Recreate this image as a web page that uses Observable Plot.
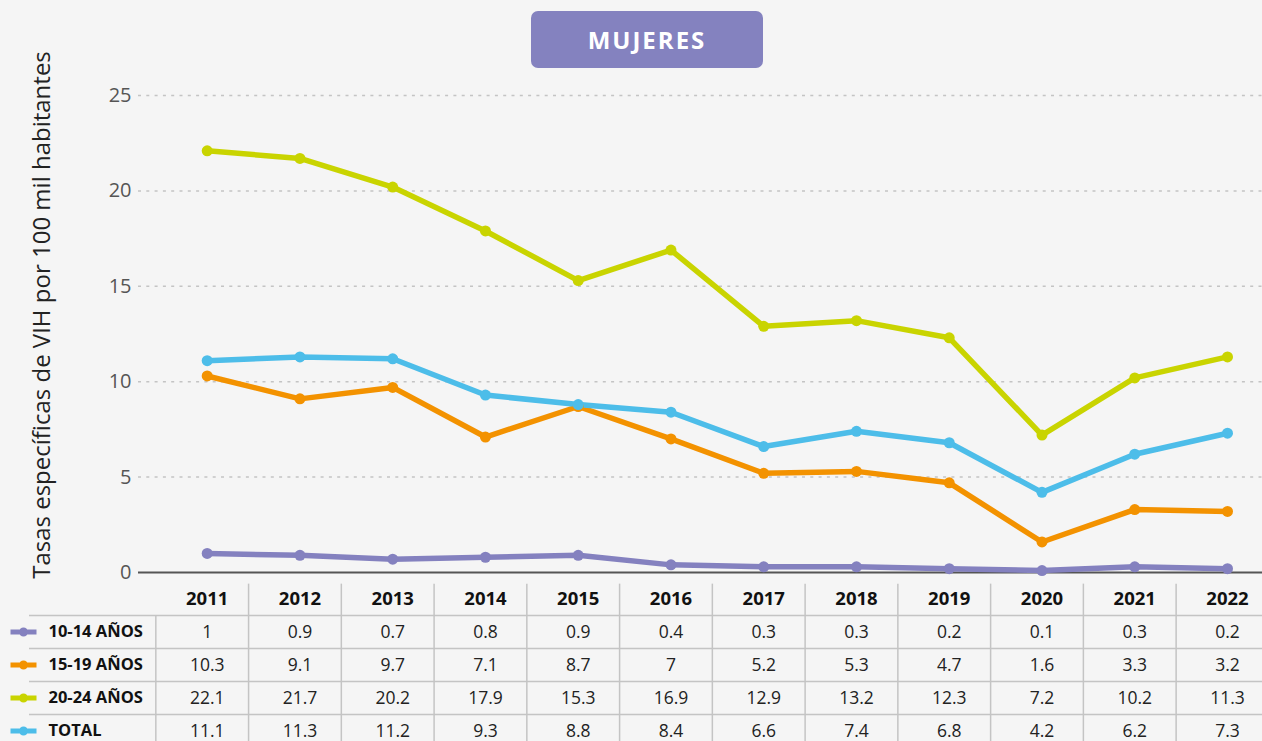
<!DOCTYPE html>
<html>
<head>
<meta charset="utf-8">
<script src="https://cdn.jsdelivr.net/npm/d3@7"></script>
<script src="https://cdn.jsdelivr.net/npm/@observablehq/plot@0.6"></script>
<style>
  html, body { margin: 0; padding: 0; background: #f5f5f5; overflow: hidden; }
  #wrap { position: relative; width: 1262px; height: 741px; overflow: hidden; }
  #table { margin-top: -12px; }
  #title {
    position: absolute; left: 531px; top: 11px; width: 232px; height: 57px;
    background: #8482bf; border-radius: 7px; color: #fff;
    font: 700 24px "Open Sans", sans-serif; letter-spacing: 2px; text-align: center; line-height: 57px;
  }
  #ylabel {
    position: absolute; left: 40px; top: 315px; white-space: nowrap;
    transform: translate(-50%, -50%) rotate(-90deg);
    font: 400 24px "Open Sans", sans-serif; color: #222;
  }
  svg { display: block; }
</style>
</head>
<body>
<div id="wrap">
  <div id="chart"></div>
  <div id="table"></div>
  <div id="title">MUJERES</div>
  <div id="ylabel">Tasas específicas de VIH por 100 mil habitantes</div>
</div>
<script>
const years = [2011, 2012, 2013, 2014, 2015, 2016, 2017, 2018, 2019, 2020, 2021, 2022];
const series = ["10-14 AÑOS", "15-19 AÑOS", "20-24 AÑOS", "TOTAL"];
const v1014 = [1, 0.9, 0.7, 0.8, 0.9, 0.4, 0.3, 0.3, 0.2, 0.1, 0.3, 0.2];
const v1519 = [10.3, 9.1, 9.7, 7.1, 8.7, 7, 5.2, 5.3, 4.7, 1.6, 3.3, 3.2];
const v2024 = [22.1, 21.7, 20.2, 17.9, 15.3, 16.9, 12.9, 13.2, 12.3, 7.2, 10.2, 11.3];
const vTotal = [11.1, 11.3, 11.2, 9.3, 8.8, 8.4, 6.6, 7.4, 6.8, 4.2, 6.2, 7.3];
const colors = ["#8481bf", "#f39200", "#c9d400", "#4dbde9"];
const yTicks = [0, 5, 10, 15, 20, 25];

const values = [v1014, v1519, v2024, vTotal];
const long = series.flatMap((s, i) => years.map((yr, j) => ({series: s, row: i + 1, year: yr, value: values[i][j]})));
const rowsData = series.map((s, i) => ({series: s, row: i + 1}));
const header = years.map(yr => ({year: yr, row: 0}));
const seps = years.map((yr, j) => ({x: yr - 0.5, y1: j === 0 ? 0.5 : -0.45, y2: series.length + 0.5}));
const hlines = series.map((s, i) => i + 0.5);

const font = "Open Sans, sans-serif";

const chart = Plot.plot({
  width: 1262, height: 592,
  marginTop: 95, marginBottom: 20, marginLeft: 138, marginRight: 0,
  style: {background: "transparent", fontFamily: font},
  x: {domain: [2011, 2022], insetLeft: 68.7, insetRight: 35, axis: null},
  y: {domain: [0, 25], axis: null},
  color: {domain: series, range: colors},
  marks: [
    Plot.ruleY(yTicks.filter(t => t > 0), {stroke: "#c4c4c4", strokeWidth: 1.5, strokeDasharray: "3,5.3"}),
    Plot.axisY({ticks: yTicks, tickSize: 0, tickPadding: 7, fontSize: 20, fill: "#555", label: null}),
    Plot.ruleY([0], {stroke: "#555", strokeWidth: 2}),
    Plot.line(long, {x: "year", y: "value", stroke: "series", strokeWidth: 5.5, z: "series"}),
    Plot.dot(long, {x: "year", y: "value", fill: "series", r: 5.5, stroke: null})
  ]
});
document.getElementById("chart").append(chart);

const legendSymbol = {
  draw(ctx, size) {
    const r = 4.5;
    ctx.moveTo(r, 0);
    ctx.arc(0, 0, r, 0, 2 * Math.PI);
    ctx.closePath();
    ctx.rect(-13, -2.5, 26, 5);
  }
};

const table = Plot.plot({
  width: 1262, height: 167,
  marginTop: 2, marginBottom: 0, marginLeft: 29, marginRight: 0,
  style: {background: "transparent", fontFamily: font},
  x: {domain: [2011, 2022], insetLeft: 177.7, insetRight: 35, axis: null},
  y: {domain: [-0.5, series.length + 0.5], reverse: true, axis: null},
  color: {domain: series, range: colors},
  marks: [
    Plot.ruleY(hlines, {stroke: "#c4c4c4", strokeWidth: 1.5}),
    Plot.ruleX(seps, {x: "x", y1: "y1", y2: "y2", dx: -5, stroke: "#c4c4c4", strokeWidth: 1.5}),
    Plot.text(header, {x: "year", y: "row", text: d => String(d.year), fontSize: 18.5, fontWeight: 700, fill: "#111"}),
    Plot.text(long, {x: "year", y: "row", text: d => String(d.value), fontSize: 17.5, fill: "#222"}),
    Plot.dot(rowsData, {y: "row", frameAnchor: "left", dx: -6, symbol: legendSymbol, r: 5, fill: "series", stroke: null}),
    Plot.text(rowsData, {y: "row", text: "series", frameAnchor: "left", dx: 19, textAnchor: "start", fontSize: 16.5, fontWeight: 700, fill: "#111"})
  ]
});
document.getElementById("table").append(table);
</script>
</body>
</html>
